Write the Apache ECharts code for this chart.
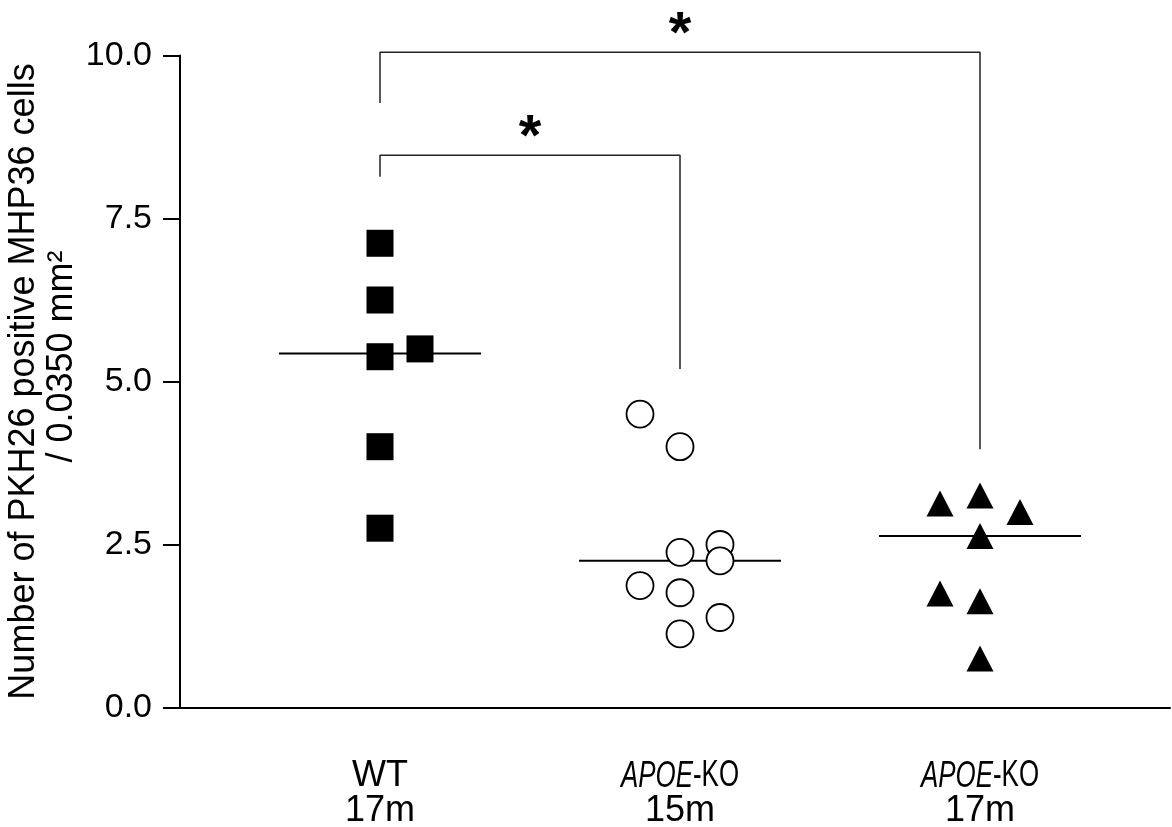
<!DOCTYPE html>
<html>
<head>
<meta charset="utf-8">
<script src="https://cdn.jsdelivr.net/npm/echarts@6/dist/echarts.min.js"></script>
<style>
  html, body { margin: 0; padding: 0; background: #fff; }
  #chart { width: 1172px; height: 827px; }
</style>
</head>
<body>
<div id="chart"></div>
<script>
// Group labels (genotype, age) along the x axis
const genotypes = ['WT', 'APOE-KO', 'APOE-KO'];
const ages = ['17m', '15m', '17m'];
const yTicks = [0, 2.5, 5, 7.5, 10];

// Cell counts per animal; columns give the side-by-side slot inside a group (-1 left, 0 centre, 1 right)
const wtValues = [7.12, 6.25, 5.38, 4.0, 2.75, 5.5];
const wtColumns = [0, 0, 0, 0, 0, 1];
const ko15Values = [4.5, 4.0, 2.38, 2.5, 2.25, 1.87, 1.76, 1.38, 1.13];
const ko15Columns = [-1, 0, 0, 1, 1, -1, 0, 1, 0];
const ko17Values = [3.13, 3.25, 3.0, 2.63, 1.75, 1.63, 0.75];
const ko17Columns = [-1, 0, 1, 0, -1, 0, 0];

// Group medians
const medians = [5.43, 2.25, 2.63];

// Significance brackets between groups (levels in y units)
const bracketFrom = [0, 0];
const bracketTo = [1, 2];
const bracketLevel = [8.47, 10.05];
const bracketLeftFoot = [8.14, 9.27];
const bracketRightFoot = [5.19, 3.96];
const bracketLabel = ['*', '*'];

const FONT = 'Liberation Sans, Arial, sans-serif';
const COLUMN_STEP = 0.1333;   // horizontal spacing between side-by-side points
const MEDIAN_HALF = 0.3367;   // half length of the median bars
const groupX = i => i + 1;

function points(values, columns, g) {
  return values.map((v, k) => [groupX(g) + columns[k] * COLUMN_STEP, v]);
}

const series = [];

// median bars
medians.forEach((m, g) => {
  series.push({
    type: 'line',
    data: [[groupX(g) - MEDIAN_HALF, m], [groupX(g) + MEDIAN_HALF, m]],
    symbol: 'none',
    lineStyle: { color: '#000', width: 2 },
    z: 2,
    silent: true
  });
});

// significance brackets
bracketFrom.forEach((f, i) => {
  const a = groupX(f), b = groupX(bracketTo[i]);
  series.push({
    type: 'line',
    data: [[a, bracketLeftFoot[i]], [a, bracketLevel[i]], [b, bracketLevel[i]], [b, bracketRightFoot[i]]],
    symbol: 'none',
    clip: false,
    lineStyle: { color: '#222', width: 1.5 },
    z: 2,
    silent: true
  });
  series.push({
    type: 'scatter',
    data: [[(a + b) / 2, bracketLevel[i]]],
    symbolSize: 0,
    clip: false,
    itemStyle: { opacity: 1 },
    label: {
      show: true,
      formatter: bracketLabel[i],
      position: 'top',
      distance: -13,
      fontFamily: FONT,
      fontWeight: 'bold',
      fontSize: 58,
      color: '#000'
    },
    z: 3,
    silent: true
  });
});

// individual animals
series.push({
  type: 'scatter',
  data: points(wtValues, wtColumns, 0),
  symbol: 'rect',
  symbolSize: 27,
  itemStyle: { color: '#000', opacity: 1 },
  z: 5
});
series.push({
  type: 'scatter',
  data: points(ko15Values, ko15Columns, 1),
  symbol: 'circle',
  symbolSize: 27,
  itemStyle: { color: '#fff', borderColor: '#000', borderWidth: 1.8, opacity: 1 },
  z: 5
});
series.push({
  type: 'scatter',
  data: points(ko17Values, ko17Columns, 2),
  symbol: 'triangle',
  symbolSize: [27, 26],
  itemStyle: { color: '#000', opacity: 1 },
  z: 5
});

const chart = echarts.init(document.getElementById('chart'), null, { renderer: 'canvas' });
chart.setOption({
  animation: false,
  backgroundColor: '#fff',
  grid: { left: 180, right: 2, top: 55.5, bottom: 119.5, containLabel: false, outerBoundsMode: 'none' },
  xAxis: {
    type: 'value',
    min: 1 / 3,
    max: 1 / 3 + 990 / 300,
    axisLine: { show: true, onZero: false, lineStyle: { color: '#000', width: 2 } },
    axisTick: { show: false },
    splitLine: { show: false },
    axisLabel: { show: false }
  },
  yAxis: {
    type: 'value',
    min: yTicks[0],
    max: yTicks[yTicks.length - 1],
    interval: 2.5,
    name: '{a|Number of PKH26 positive MHP36 cells}\n{p| }{a|/ 0.0350 mm²}',
    nameLocation: 'middle',
    nameGap: 99,
    nameMoveOverlap: false,
    nameTextStyle: {
      fontFamily: FONT, fontSize: 36, color: '#000', lineHeight: 38, align: 'center',
      rich: {
        a: { fontFamily: FONT, fontSize: 36, color: '#000', lineHeight: 38 },
        p: { fontFamily: FONT, fontSize: 36, lineHeight: 38, width: 50 }
      }
    },
    axisLine: { show: true, lineStyle: { color: '#000', width: 2 } },
    axisTick: { show: true, inside: false, length: 17, lineStyle: { color: '#000', width: 2 } },
    splitLine: { show: false },
    axisLabel: {
      margin: 28,
      fontFamily: FONT,
      fontSize: 34,
      color: '#000',
      formatter: v => v.toFixed(1)
    }
  },
  series: series
});

// Two-line group captions under the x axis, placed at each group's position on the axis.
// The knockout genotype is set in a condensed italic gene symbol.
const captions = [];
genotypes.forEach((name, g) => {
  const p = chart.convertToPixel({ gridIndex: 0 }, [groupX(g), 0]);
  const cut = name.indexOf('-');
  const rich = {
    n: { fontFamily: FONT, fontSize: 36, fill: '#000' },
    i: { fontFamily: FONT, fontSize: 36, fill: '#000', fontStyle: 'italic' }
  };
  captions.push({
    type: 'text',
    x: p[0],
    y: p[1] + 69,
    scaleX: cut > 0 ? 0.72 : 1,
    silent: true,
    style: {
      text: cut > 0 ? '{i|' + name.slice(0, cut) + '}{n|' + name.slice(cut) + '}' : '{n|' + name + '}',
      rich: rich,
      align: 'center',
      verticalAlign: 'middle'
    }
  });
  captions.push({
    type: 'text',
    x: p[0],
    y: p[1] + 104,
    silent: true,
    style: {
      text: ages[g],
      fontFamily: FONT,
      fontSize: 36,
      fill: '#000',
      align: 'center',
      verticalAlign: 'middle'
    }
  });
});
chart.setOption({ graphic: captions });
</script>
</body>
</html>
